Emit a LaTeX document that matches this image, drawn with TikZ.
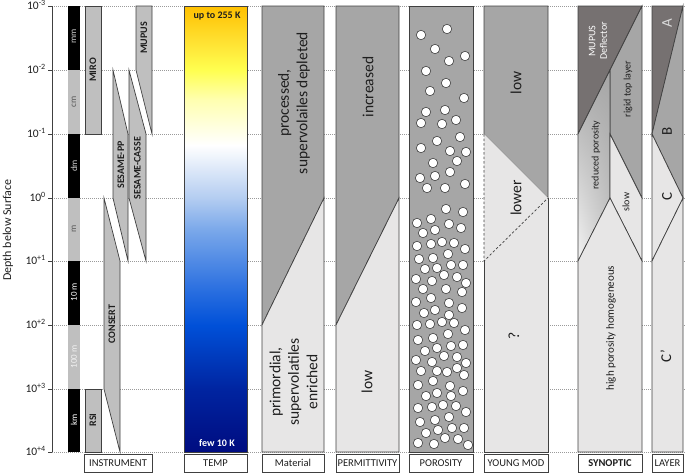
\documentclass[tikz,border=0pt]{standalone}
\usepackage{fontspec}
\setmainfont{Carlito}
\usetikzlibrary{shadings}
\definecolor{dk}{HTML}{A6A6A6}
\definecolor{lt}{HTML}{E7E6E6}
\definecolor{ins}{HTML}{BFBFBF}
\definecolor{vdk}{HTML}{767171}
\definecolor{edge}{HTML}{404040}
\definecolor{gridc}{HTML}{9A9A9A}
\definecolor{txt}{HTML}{1E1E1E}
\definecolor{tc0}{HTML}{000C80}
\definecolor{tc1}{HTML}{0024A0}
\definecolor{tc2}{HTML}{0050D8}
\definecolor{tc3}{HTML}{2A6FE0}
\definecolor{tc4}{HTML}{7AA8EA}
\definecolor{tc5}{HTML}{B4CDF1}
\definecolor{tc6}{HTML}{FFFFB0}
\definecolor{tc7}{HTML}{FFFF50}
\definecolor{tc8}{HTML}{FFE030}
\definecolor{tc9}{HTML}{FFC000}
\definecolor{redlo}{HTML}{F4F4F4}
\definecolor{redmid}{HTML}{C8C8C8}
\pgfdeclareverticalshading{tempshade}{100bp}{color(0bp)=(tc0); color(25bp)=(tc0); color(32bp)=(tc1); color(39.2bp)=(tc2); color(43.2bp)=(tc3); color(49.9bp)=(tc4); color(53.5bp)=(tc5); color(59.4bp)=(white); color(64.5bp)=(tc6); color(67.8bp)=(tc7); color(71.2bp)=(tc8); color(75bp)=(tc9); color(100bp)=(tc9)}
\tikzset{
  gridl/.style={gridc, line width=0.6pt, dash pattern=on 1pt off 1pt},
  outl/.style={draw=edge, line width=0.7pt},
  rt/.style={rotate=90, inner sep=0pt, align=center, text=txt},
  insl/.style={rt, font=\fontsize{10}{12}\selectfont\bfseries},
  big/.style={rt, font=\fontsize{15.5}{18.5}\selectfont},
  syn/.style={rt, font=\fontsize{10}{11.5}\selectfont},
  scl/.style={rt, font=\fontsize{9}{11}\selectfont},
  lay/.style={rt, font=\fontsize{15}{17}\selectfont},
  ticklab/.style={anchor=base east, inner sep=0pt, text=txt, font=\fontsize{11.5}{13}\selectfont},
  capbox/.style={draw=edge, line width=0.7pt, fill=white, text=txt, font=\fontsize{10.5}{12}\selectfont, inner sep=0pt, minimum height=18pt},
  pore/.style={draw=edge, fill=white, line width=0.6pt}
}
\begin{document}
\begin{tikzpicture}[x=1pt,y=-1pt]
\useasboundingbox (0,0) rectangle (685,474);
% grid lines
\foreach \yy in {6,70,134,198,261,325,389,452} {
  \draw[gridl] (52,\yy) -- (685,\yy);
  \draw[edge, line width=0.7pt] (48,\yy) -- (52,\yy);
}
\draw[edge, line width=0.7pt] (52,6) -- (52,452);
% tick labels
\node[ticklab] (t0) at (46,9.5) {10\textsuperscript{-3}};
\node[ticklab] (t1) at (46,73.5) {10\textsuperscript{-2}};
\node[ticklab] (t2) at (46,137.5) {10\textsuperscript{-1}};
\node[ticklab] (t3) at (46,201.5) {10\textsuperscript{0}};
\node[ticklab] (t4) at (46,264.5) {10\textsuperscript{+1}};
\node[ticklab] (t5) at (46,328.5) {10\textsuperscript{+2}};
\node[ticklab] (t6) at (46,392.5) {10\textsuperscript{+3}};
\node[ticklab] (t7) at (46,455.5) {10\textsuperscript{+4}};
\node[rotate=90, text=txt, font=\fontsize{12}{14}\selectfont] (ylab) at (8,230) {Depth below Surface};
% scale column
\fill[black] (68,6) rectangle (80,70);
\fill[ins] (68,70) rectangle (80,134);
\fill[black] (68,134) rectangle (80,198);
\fill[ins] (68,198) rectangle (80,261);
\fill[black] (68,261) rectangle (80,325);
\fill[ins] (68,325) rectangle (80,389);
\fill[black] (68,389) rectangle (80,452);
\node[scl, text=black!20] (smm) at (74,36) {mm};
\node[scl, text=black!65] (scm) at (74,102) {cm};
\node[scl, text=black!20] (sdm) at (74,166) {dm};
\node[scl, text=black!65] (sm) at (74,229) {m};
\node[scl, text=white] (s10) at (74,292) {10 m};
\node[scl, text=black!5] (s100) at (74,357) {100 m};
\node[scl, text=white] (skm) at (74,420) {km};
% instruments
\draw[outl, fill=ins] (85,6) rectangle (101,134);
\draw[outl, fill=ins] (136,6) -- (152,6) -- (152,134) -- (136,70) -- cycle;
\draw[outl, fill=ins] (113,70) -- (128,134) -- (128,261) -- (113,198) -- cycle;
\draw[outl, fill=ins] (129,70) -- (146,134) -- (146,261) -- (129,198) -- cycle;
\draw[outl, fill=ins] (104,198) -- (120,261) -- (120,452) -- (104,389) -- cycle;
\draw[outl, fill=ins] (85,389) rectangle (101,452);
\node[insl] (miro) at (93,70) {MIRO};
\node[insl] (mupus) at (144,38) {MUPUS};
\node[insl] (spp) at (121,165) {SESAME-PP};
\node[insl] (scasse) at (137.5,168) {SESAME-CASSE};
\node[insl] (consert) at (112,324) {CONSERT};
\node[insl] (rsi) at (93,420) {RSI};
% temperature
\shade[shading=tempshade] (184,6) rectangle (247,452);
\draw[outl] (184,6) rectangle (247,452);
\node[inner sep=0pt, text=txt, font=\fontsize{10}{12}\selectfont\bfseries] (tup) at (217,16) {up to 255 K};
\node[inner sep=0pt, text=white, font=\fontsize{10}{12}\selectfont\bfseries] (tlow) at (217,443) {few 10 K};
% material
\draw[outl, fill=dk] (262,6) -- (324,6) -- (324,198) -- (262,325) -- cycle;
\draw[outl, fill=lt] (262,325) -- (324,198) -- (324,452) -- (262,452) -- cycle;
\node[big] (mat1) at (294,103) {processed,\\supervolailes depleted};
\node[big] (mat2) at (293.5,382) {primordial,\\supervolatiles\\enriched};
% permittivity
\draw[outl, fill=dk] (336,6) -- (399,6) -- (399,198) -- (336,325) -- cycle;
\draw[outl, fill=lt] (336,325) -- (399,198) -- (399,452) -- (336,452) -- cycle;
\node[big] (perm1) at (368,87) {increased};
\node[big] (perm2) at (367,382) {low};
% porosity
\draw[outl, fill=dk] (409,6) rectangle (473,452);
\foreach \p in {(421,35),(447,29),(435,49),(449,61),(465,56),(426,71),(446,83),(430,91),(464,98),(426,112),(445,110),(421,123),(442,124),(456,120),(460,137),(437,141),(421,148),(450,151),(466,152),(433,163),(457,161),(420,178),(435,176),(450,172),(427,188),(445,188),(465,184),(446,209),(463,212),(417,223),(431,219),(449,224),(461,228),(423,233),(435,230),
(417,246),(431,244),(442,242),(454,243),(465,249),(419,259),(433,258),(448,254),(425,269),(437,268),(451,265),(463,265),(416,279),(432,281),(444,275),(457,277),(466,283),(423,289),(446,289),(462,292),(416,302),(431,298),(449,303),
(462,308),(424,313),(435,310),(449,315),(417,325),(430,324),(442,322),(454,323),(465,330),(418,340),(433,338),(448,334),(425,351),(437,348),(451,346),(463,345),(416,360),(432,362),(444,356),(457,357),(466,363),(421,371),(437,371),(447,372),(457,368),(464,375),(418,385),(433,381),(426,396),(437,393),(450,386),(451,396),(463,391),(418,408),(432,407),(443,405),(456,406),(466,412),(420,422),(435,420),(449,417),(426,433),(438,430),(452,428),(464,428),(418,443),(434,444),(445,438),(458,439),(468,445)}
  \draw[pore] \p circle[radius=4.7pt];
% young modulus
\draw[outl, fill=dk] (484,6) -- (548,6) -- (548,198) -- (484,134) -- cycle;
\fill[lt] (484,134) -- (548,198) -- (484,261) -- cycle;
\fill[lt] (484,261) -- (548,198) -- (548,452) -- (484,452) -- cycle;
\draw[edge, line width=0.7pt, dash pattern=on 2.5pt off 2pt] (484,134) -- (484,261) -- (548,198);
\draw[outl] (548,198) -- (548,452) -- (484,452) -- (484,261);
\node[big] (ym1) at (516,83) {low};
\node[big] (ym2) at (516,198) {lower};
\node[big] (ym3) at (514,336) {?};
% synoptic
\draw[outl, fill=vdk] (578,6) -- (642,6) -- (578,134) -- cycle;
\draw[outl, fill=dk] (610,70) -- (642,6) -- (642,198) -- (610,134) -- cycle;
\shade[upper left=dk, upper right=dk, lower right=redmid, lower left=redlo] (578,134) -- (610,70) -- (610,198) -- (578,261) -- cycle;
\draw[outl] (578,134) -- (610,70) -- (610,198) -- (578,261) -- cycle;
\draw[outl, fill=lt] (610,134) -- (642,198) -- (642,261) -- (610,198) -- cycle;
\draw[outl, fill=lt] (578,261) -- (610,198) -- (642,261) -- (642,452) -- (578,452) -- cycle;
\node[syn, text=white] (defl) at (598,41) {MUPUS\\Deflector};
\node[syn] (rigid) at (628,89) {rigid top layer};
\node[syn] (redp) at (596,155) {reduced porosity};
\node[syn] (slow) at (626,202) {slow};
\node[rt, font=\fontsize{11}{13}\selectfont] (hph) at (611,328) {high porosity homogeneous};
% layer
\draw[outl, fill=vdk] (652,6) -- (683,6) -- (652,134) -- cycle;
\draw[outl, fill=dk] (652,134) -- (683,6) -- (683,198) -- cycle;
\draw[outl, fill=lt] (652,134) -- (683,198) -- (652,261) -- cycle;
\draw[outl, fill=lt] (652,261) -- (683,198) -- (683,452) -- (652,452) -- cycle;
\node[lay, text=black!15] (la) at (667,23) {A};
\node[lay] (lb) at (667,131) {B};
\node[lay] (lc) at (667,196) {C};
\node[lay] (lcp) at (666,356) {C'};
% captions
\node[capbox, minimum width=68pt] (cI) at (118,463) {INSTRUMENT};
\node[capbox, minimum width=63pt] (cT) at (215.5,463) {TEMP};
\node[capbox, minimum width=62pt] (cM) at (293,463) {Material};
\node[capbox, minimum width=63pt] (cP) at (367.5,463) {PERMITTIVITY};
\node[capbox, minimum width=64pt] (cO) at (441,463) {POROSITY};
\node[capbox, minimum width=64pt] (cY) at (516,463) {YOUNG MOD};
\node[capbox, minimum width=64pt, font=\fontsize{10.5}{12}\selectfont\bfseries] (cS) at (610,463) {SYNOPTIC};
\node[capbox, minimum width=31pt] (cL) at (667.5,463) {LAYER};
\end{tikzpicture}
\end{document}
